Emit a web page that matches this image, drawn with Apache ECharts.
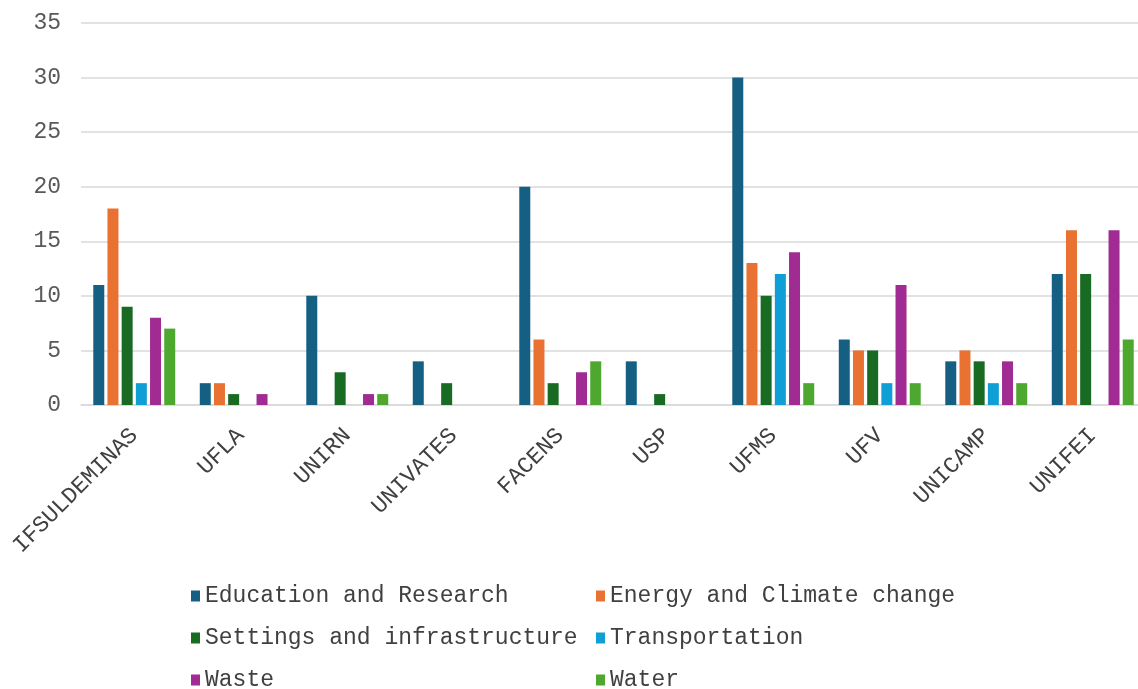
<!DOCTYPE html>
<html>
<head>
<meta charset="utf-8">
<script src="https://cdn.jsdelivr.net/npm/echarts@6/dist/echarts.min.js"></script>
<style>
  html, body { margin: 0; padding: 0; background: #fff; overflow: hidden; }
  /* plot area runs a little past the right edge of the window */
  #chart { width: 1146px; height: 689px; }
</style>
</head>
<body>
<div id="chart"></div>
<script>
const universities = ['IFSULDEMINAS', 'UFLA', 'UNIRN', 'UNIVATES', 'FACENS', 'USP', 'UFMS', 'UFV', 'UNICAMP', 'UNIFEI'];
const educationResearch = [11, 2, 10, 4, 20, 4, 30, 6, 4, 12];
const energyClimate = [18, 2, 0, 0, 6, 0, 13, 5, 5, 16];
const settingsInfra = [9, 1, 3, 2, 2, 1, 10, 5, 4, 12];
const transportation = [2, 0, 0, 0, 0, 0, 12, 2, 2, 0];
const waste = [8, 1, 1, 0, 3, 0, 14, 11, 4, 16];
const water = [7, 0, 1, 0, 4, 0, 2, 2, 2, 6];
const yTicks = [0, 5, 10, 15, 20, 25, 30, 35];

const fontFamily = '"Liberation Mono", "DejaVu Sans Mono", monospace';

const seriesDefs = [
  { name: 'Education and Research', data: educationResearch, color: '#156082' },
  { name: 'Energy and Climate change', data: energyClimate, color: '#E97132' },
  { name: 'Settings and infrastructure', data: settingsInfra, color: '#196B24' },
  { name: 'Transportation', data: transportation, color: '#0F9ED5' },
  { name: 'Waste', data: waste, color: '#A02B93' },
  { name: 'Water', data: water, color: '#4EA72E' },
];

const chart = echarts.init(document.getElementById('chart'));
chart.setOption({
  animation: false,
  backgroundColor: '#fff',
  grid: {
    left: 81,
    right: 0,
    top: 23,
    bottom: 284,
  },
  legend: {
    left: 186,
    top: 575,
    width: 810,
    itemWidth: 9,
    itemHeight: 11,
    itemGap: 10,
    icon: 'rect',
    textStyle: {
      fontFamily: fontFamily,
      fontSize: 23,
      color: '#404040',
      width: 381,
      lineHeight: 32,
    },
    data: seriesDefs.map(s => s.name),
  },
  xAxis: {
    type: 'category',
    data: universities,
    axisTick: { show: false },
    axisLine: { lineStyle: { color: '#d9d9d9', width: 1.5 } },
    axisLabel: {
      interval: 0,
      rotate: 45,
      margin: 27,
      fontFamily: fontFamily,
      fontSize: 23,
      color: '#404040',
    },
  },
  yAxis: {
    type: 'value',
    min: yTicks[0],
    max: yTicks[yTicks.length - 1],
    interval: 5,
    axisLine: { show: false },
    axisTick: { show: false },
    axisLabel: {
      margin: 20,
      fontFamily: fontFamily,
      fontSize: 23,
      color: '#595959',
    },
    splitLine: { lineStyle: { color: '#d9d9d9', width: 1.5 } },
  },
  series: seriesDefs.map(s => ({
    name: s.name,
    type: 'bar',
    data: s.data,
    barWidth: 11,
    barGap: '29%',
    itemStyle: { color: s.color },
  })),
});
</script>
</body>
</html>
